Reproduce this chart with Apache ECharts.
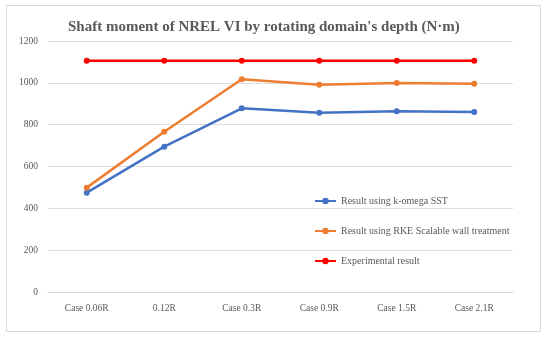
<!DOCTYPE html>
<html><head><meta charset="utf-8">
<script src="https://cdn.jsdelivr.net/npm/echarts@6/dist/echarts.min.js"></script>
<style>html,body{margin:0;padding:0;background:#fff}#c{width:550px;height:337px}
#box{position:absolute;left:6px;top:5px;width:535px;height:327px;border:1px solid #d9d9d9;box-sizing:border-box;pointer-events:none}</style>
</head><body><div id="c"></div><div id="box"></div>
<script>
var categories = ['Case 0.06R', '0.12R', 'Case 0.3R', 'Case 0.9R', 'Case 1.5R', 'Case 2.1R'];
var kOmega = [475, 695, 878, 857, 864, 861];
var rke = [499, 766, 1017, 991, 999, 996];
var experimental = [1105, 1105, 1105, 1105, 1105, 1105];
var yTicks = [0, 200, 400, 600, 800, 1000, 1200];
var names = ['Result using k-omega SST', 'Result using RKE Scalable wall treatment', 'Experimental result'];
var colors = ['#4472C4', '#ED7D31', '#FF0000'];
var font = '"Liberation Serif", "DejaVu Serif", serif';
var chart = echarts.init(document.getElementById('c'));
function mk(i, data) {
  return {name: names[i], type: 'line', data: data, symbol: 'circle', symbolSize: 6,
    lineStyle: {width: 2.5, color: colors[i]}, itemStyle: {color: colors[i]}, animation: false};
}
chart.setOption({
  animation: false,
  title: {text: 'Shaft moment of NREL VI by rotating domain\'s depth (N·m)', left: 63, top: 15,
    textStyle: {fontFamily: font, fontSize: 15, fontWeight: 'bold', color: '#595959'}},
  grid: {left: 48, right: 37, top: 41, bottom: 45},
  legend: {orient: 'vertical', left: 309, top: 191, itemGap: 20, itemWidth: 21, itemHeight: 8,
    textStyle: {fontFamily: font, fontSize: 10, color: '#595959'}, data: names},
  xAxis: {type: 'category', data: categories, boundaryGap: true,
    axisLine: {lineStyle: {color: '#d9d9d9', width: 1}}, axisTick: {show: false},
    axisLabel: {fontFamily: font, fontSize: 9.5, color: '#595959', margin: 11, interval: 0}},
  yAxis: {type: 'value', min: yTicks[0], max: yTicks[yTicks.length - 1], interval: 200,
    axisLine: {show: false}, axisTick: {show: false},
    splitLine: {lineStyle: {color: '#dedede', width: 1}},
    axisLabel: {fontFamily: font, fontSize: 9.5, color: '#595959', margin: 10,
      formatter: function (v) { return String(v); }}},
  series: [mk(0, kOmega), mk(1, rke), mk(2, experimental)]
});
</script></body></html>
